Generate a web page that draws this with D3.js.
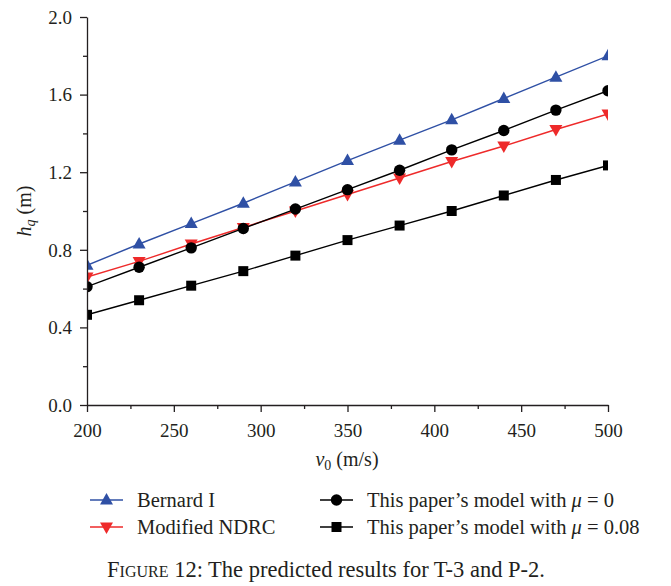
<!DOCTYPE html>
<html>
<head>
<meta charset="utf-8">
<script src="https://cdnjs.cloudflare.com/ajax/libs/d3/7.8.5/d3.min.js"></script>
<style>
  body { margin: 0; background: #fff; }
  svg text, svg tspan { font-family: "Liberation Serif", "DejaVu Serif", serif !important; fill: #231f20; }
</style>
</head>
<body>
<svg id="chart" width="671" height="586"></svg>
<script>
// speeds v0 (m/s)
var speeds = [200, 230, 260, 290, 320, 350, 380, 410, 440, 470, 500];
// h_q (m) for each model
var bernard = [0.72, 0.83, 0.935, 1.04, 1.15, 1.26, 1.365, 1.47, 1.58, 1.69, 1.80];
var ndrc = [0.66, 0.74, 0.83, 0.915, 1.00, 1.085, 1.17, 1.255, 1.335, 1.42, 1.50];
var mu0 = [0.61, 0.71, 0.81, 0.91, 1.01, 1.11, 1.21, 1.315, 1.415, 1.52, 1.62];
var mu008 = [0.465, 0.54, 0.615, 0.69, 0.77, 0.85, 0.925, 1.00, 1.08, 1.16, 1.235];
var xTicks = [200, 250, 300, 350, 400, 450, 500];
var yTicks = [0.0, 0.4, 0.8, 1.2, 1.6, 2.0];

var series = [
  {name: 'Bernard I', values: bernard, color: '#2f50a5', symbol: 'up'},
  {name: 'Modified NDRC', values: ndrc, color: '#ee2a2a', symbol: 'down'},
  {name: 'mu0', values: mu0, color: '#000', symbol: 'circle'},
  {name: 'mu008', values: mu008, color: '#000', symbol: 'square'}
];

var serif = '"Liberation Serif", "DejaVu Serif", serif';
var svg = d3.select('#chart');
var x = d3.scaleLinear().domain([200, 500]).range([87, 608]);
var y = d3.scaleLinear().domain([0, 2]).range([405, 17]);

// markers
function markerPath(sym) {
  if (sym == 'up') return 'M0,-7L6.5,4.5L-6.5,4.5Z';
  if (sym == 'down') return 'M0,7L6.5,-4.5L-6.5,-4.5Z';
  if (sym == 'square') return 'M-5,-5H5V5H-5Z';
  return d3.symbol().type(d3.symbolCircle).size(Math.PI * 5.7 * 5.7)();
}

svg.append('clipPath').attr('id', 'plotclip')
  .append('rect').attr('x', x(200)).attr('y', 0).attr('width', x(500) - x(200)).attr('height', 420);

var plot = svg.append('g').attr('clip-path', 'url(#plotclip)');
var line = d3.line().x(function(d){ return x(d[0]); }).y(function(d){ return y(d[1]); });

series.forEach(function(s){
  var pts = speeds.map(function(v, i){ return [v, s.values[i]]; });
  plot.append('path').attr('d', line(pts))
    .attr('fill', 'none').attr('stroke', s.color).attr('stroke-width', 1.4);
  plot.selectAll(null).data(pts).enter().append('path')
    .attr('d', markerPath(s.symbol))
    .attr('transform', function(d){ return 'translate(' + x(d[0]) + ',' + y(d[1]) + ')'; })
    .attr('fill', s.color);
});

// axes
var xAxis = svg.append('g').attr('transform', 'translate(0,' + y(0) + ')')
  .call(d3.axisBottom(x).tickValues(xTicks).tickSize(7).tickSizeOuter(0).tickPadding(8));
svg.append('g').attr('transform', 'translate(0,' + y(0) + ')')
  .call(d3.axisBottom(x).tickValues([225, 275, 325, 375, 425, 475]).tickSize(4).tickFormat(''))
  .select('.domain').remove();
var yAxis = svg.append('g').attr('transform', 'translate(' + x(200) + ',0)')
  .call(d3.axisLeft(y).tickValues(yTicks).tickFormat(d3.format('.1f')).tickSize(7).tickSizeOuter(0).tickPadding(8));
svg.append('g').attr('transform', 'translate(' + x(200) + ',0)')
  .call(d3.axisLeft(y).tickValues([0.2, 0.6, 1.0, 1.4, 1.8]).tickSize(4).tickFormat(''))
  .select('.domain').remove();

svg.selectAll('g').attr('font-family', serif);
svg.selectAll('.domain, .tick line').attr('stroke', '#231f20').attr('stroke-width', 1.3);
svg.selectAll('.tick text').style('font-size', '19px').style('font-family', serif).attr('fill', '#231f20');
xAxis.selectAll('.tick text').attr('dy', '0.9em');
yAxis.selectAll('.tick text').attr('dy', '0.33em');

// axis titles
var xt = svg.append('text').attr('x', 347).attr('y', 466).attr('text-anchor', 'middle').style('font-size', '20px');
xt.append('tspan').style('font-style', 'italic').text('v');
xt.append('tspan').attr('dy', 4).style('font-size', '14px').text('0');
xt.append('tspan').attr('dy', -4).text(' (m/s)');

var yt = svg.append('text').attr('transform', 'translate(31,211) rotate(-90)').attr('text-anchor', 'middle').style('font-size', '20px');
yt.append('tspan').style('font-style', 'italic').text('h');
yt.append('tspan').attr('dy', 4).style('font-size', '14px').style('font-style', 'italic').text('q');
yt.append('tspan').attr('dy', -4).text(' (m)');

// legend
var legend = [
  {s: series[0], lx: 90, ly: 500, label: ['Bernard I']},
  {s: series[1], lx: 90, ly: 527, label: ['Modified NDRC']},
  {s: series[2], lx: 320, ly: 500, label: ['This paper\u2019s model with ', '\u03bc', ' = 0']},
  {s: series[3], lx: 320, ly: 527, label: ['This paper\u2019s model with ', '\u03bc', ' = 0.08']}
];
legend.forEach(function(l){
  var g = svg.append('g').attr('transform', 'translate(' + l.lx + ',' + l.ly + ')');
  g.append('line').attr('x1', 0).attr('x2', 33).attr('stroke', l.s.color).attr('stroke-width', 1.4);
  g.append('path').attr('d', markerPath(l.s.symbol)).attr('transform', 'translate(16.5,0)').attr('fill', l.s.color);
  var t = g.append('text').attr('x', 47).attr('y', 6.5).style('font-size', '20.5px');
  l.label.forEach(function(p, i){
    t.append('tspan').style('font-style', i == 1 ? 'italic' : 'normal').text(p);
  });
});

// caption
var cap = svg.append('text').attr('x', 326).attr('y', 577).attr('text-anchor', 'middle').style('font-size', '22.5px');
cap.append('tspan').text('F');
cap.append('tspan').style('font-variant', 'small-caps').text('igure');
cap.append('tspan').text(' 12: The predicted results for T-3 and P-2.');
</script>
</body>
</html>
